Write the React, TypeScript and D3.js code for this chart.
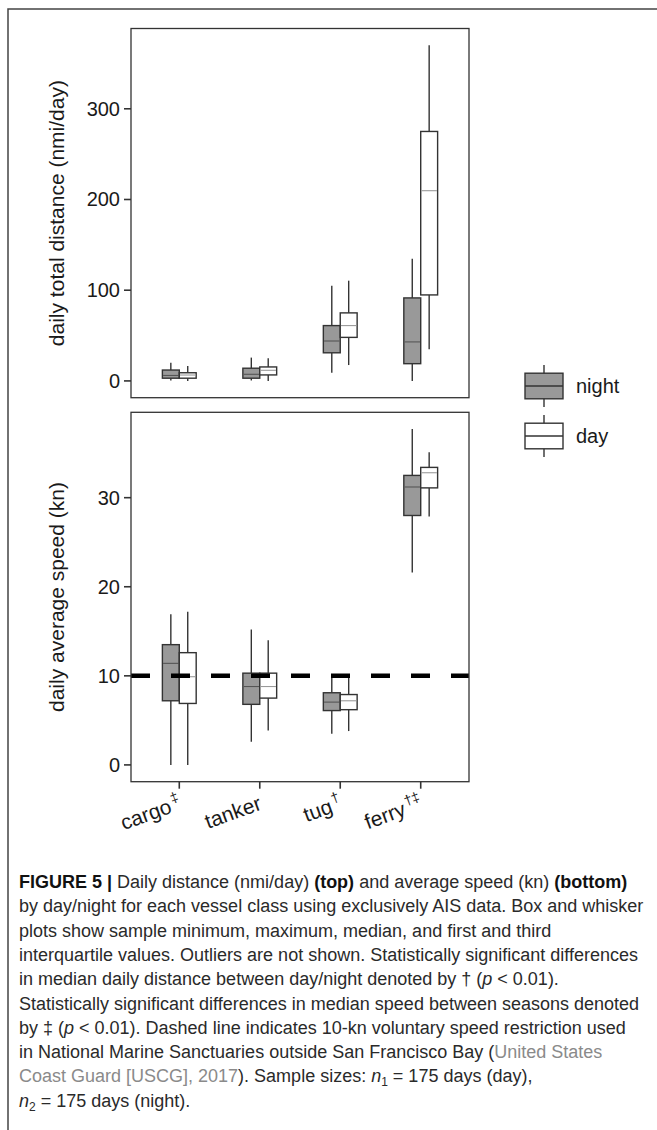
import React from "react";
import { scaleLinear, scalePoint, max, min } from "d3";

// values: [min, q1, median, q3, max]
const categories = ["cargo", "tanker", "tug", "ferry"];
const categorySup = ["‡", "", "†", "†‡"];
const groups = ["night", "day"];

const distNight = [
  [0.5, 3, 6, 12, 20],
  [0.5, 3, 7.3, 14, 25.7],
  [9, 31, 44, 61, 105],
  [0, 19, 43, 91.5, 134.7],
];
const distDay = [
  [0, 3, 6.5, 9, 16.5],
  [0, 6.6, 11.7, 15.4, 25],
  [17.5, 48, 61, 75, 110.5],
  [35, 94.8, 209.7, 275, 370],
];
const speedNight = [
  [0, 7.2, 11.4, 13.5, 16.9],
  [2.6, 6.8, 8.8, 10.3, 15.2],
  [3.5, 6.1, 7.05, 8.1, 9.8],
  [21.6, 28.0, 31.2, 32.5, 37.7],
];
const speedDay = [
  [0, 6.9, 9.9, 12.6, 17.2],
  [3.85, 7.5, 8.8, 10.3, 14],
  [3.8, 6.2, 7.2, 7.9, 9.8],
  [27.9, 31.1, 32.8, 33.4, 35.1],
];
const distTicks = [0, 100, 200, 300];
const speedTicks = [0, 10, 20, 30];
const speedLimit = 10;

const W = 657, H = 1130;
const left = 131, right = 469;
const top1 = 28.5, bottom1 = 397.7;
const top2 = 412.3, bottom2 = 781.7;
const ink = "#333333";
const fills = { night: "#999999", day: "#ffffff" };
const medColor = { night: "#555555", day: "#9a9a9a" };
const font = "'Liberation Sans', Arial, Helvetica, sans-serif";

function padded(series: number[][][]) {
  const lo = min(series.flat(2)) as number;
  const hi = max(series.flat(2)) as number;
  const e = (hi - lo) * 0.05;
  return [lo - e, hi + e];
}

const x = scalePoint<string>().domain(categories).range([left, right]).padding(0.6);
const boxW = x.step() * 0.21;

function Panel({ night, day, ticks, top, bottom, title, hline }: any) {
  const y = scaleLinear().domain(padded([night, day])).range([bottom, top]);
  const boxes: any[] = [];
  categories.forEach((c, i) => {
    groups.forEach((g, gi) => {
      const s = (g === "night" ? night : day)[i];
      const x0 = (x(c) as number) + (gi === 0 ? -boxW : 0);
      const cx = x0 + boxW / 2;
      boxes.push(
        <g key={c + g}>
          <line x1={cx} x2={cx} y1={y(s[4])} y2={y(s[3])} stroke={ink} strokeWidth={1.4} />
          <line x1={cx} x2={cx} y1={y(s[1])} y2={y(s[0])} stroke={ink} strokeWidth={1.4} />
          <rect x={x0} y={y(s[3])} width={boxW} height={y(s[1]) - y(s[3])}
            fill={(fills as any)[g]} stroke={ink} strokeWidth={1.4} />
          <line x1={x0 + 0.7} x2={x0 + boxW - 0.7} y1={y(s[2])} y2={y(s[2])}
            stroke={(medColor as any)[g]} strokeWidth={1.1} />
        </g>
      );
    });
  });
  const mid = (top + bottom) / 2;
  return (
    <g>
      {boxes}
      {hline !== undefined && (
        <line x1={left} x2={right} y1={y(hline)} y2={y(hline)} stroke="#000"
          strokeWidth={4.5} strokeDasharray="19 21" />
      )}
      <rect x={left} y={top} width={right - left} height={bottom - top} fill="none" stroke={ink} strokeWidth={1.3} />
      {ticks.map((t: number) => (
        <g key={t}>
          <line x1={left - 7} x2={left} y1={y(t)} y2={y(t)} stroke={ink} strokeWidth={1.6} />
          <text x={left - 11} y={y(t)} dy="0.35em" textAnchor="end" fontSize={20} fill="#1a1a1a">{t}</text>
        </g>
      ))}
      <text transform={`translate(57,${mid}) rotate(-90)`} textAnchor="middle" dy="0.35em" fontSize={21} fill="#1a1a1a">
        {title}
      </text>
    </g>
  );
}

function LegendKey({ cy, g }: { cy: number; g: string }) {
  const kx = 525, kw = 38;
  return (
    <g>
      <line x1={kx + kw / 2} x2={kx + kw / 2} y1={cy - 21} y2={cy + 21} stroke={ink} strokeWidth={1.4} />
      <rect x={kx} y={cy - 12.8} width={kw} height={25.6} fill={(fills as any)[g]} stroke={ink} strokeWidth={1.4} />
      <line x1={kx} x2={kx + kw} y1={cy} y2={cy} stroke={ink} strokeWidth={1.4} />
      <text x={576} y={cy} dy="0.35em" fontSize={20} fill="#1a1a1a">{g}</text>
    </g>
  );
}

const capLines: any[] = [
  [["b", "FIGURE 5 | "], ["", "Daily distance (nmi/day) "], ["b", "(top)"], ["", " and average speed (kn) "], ["b", "(bottom)"]],
  [["", "by day/night for each vessel class using exclusively AIS data. Box and whisker"]],
  [["", "plots show sample minimum, maximum, median, and first and third"]],
  [["", "interquartile values. Outliers are not shown. Statistically significant differences"]],
  [["", "in median daily distance between day/night denoted by † ("], ["i", "p"], ["", " < 0.01)."]],
  [["", "Statistically significant differences in median speed between seasons denoted"]],
  [["", "by ‡ ("], ["i", "p"], ["", " < 0.01). Dashed line indicates 10-kn voluntary speed restriction used"]],
  [["", "in National Marine Sanctuaries outside San Francisco Bay ("], ["g", "United States"]],
  [["g", "Coast Guard [USCG], 2017"], ["", "). Sample sizes: "], ["i", "n"], ["sub", "1"], ["", " = 175 days (day),"]],
  [["i", "n"], ["sub", "2"], ["", " = 175 days (night)."]],
];

export default function App() {
  const xLabelY = 809;
  return (
    <svg width={W} height={H} style={{ position: "absolute", left: 0, top: 0, background: "#fff" }} fontFamily={font}>
      <path d={`M${W},9 H8 V${H}`} fill="none" stroke="#444" strokeWidth={1.5} />
      <Panel night={distNight} day={distDay} ticks={distTicks} top={top1} bottom={bottom1}
        title="daily total distance (nmi/day)" />
      <Panel night={speedNight} day={speedDay} ticks={speedTicks} top={top2} bottom={bottom2}
        title="daily average speed (kn)" hline={speedLimit} />
      {categories.map((c, i) => {
        const tx = x(c) as number;
        const sup = categorySup[i];
        return (
          <g key={c}>
            <line x1={tx} x2={tx} y1={bottom2} y2={bottom2 + 7} stroke={ink} strokeWidth={1.6} />
            <text transform={`translate(${tx + 3},${xLabelY}) rotate(-20)`} textAnchor="end" fontSize={21} fill="#1a1a1a">
              {c}
              {sup && <tspan fontSize={14} dx={2} baselineShift="9">{sup}</tspan>}
            </text>
          </g>
        );
      })}
      <LegendKey cy={386} g="night" />
      <LegendKey cy={436} g="day" />
      {capLines.map((ln, i) => (
        <text key={i} x={19} y={888 + i * 24.3} fontSize={18} fill="#2a2a2a">
          {ln.map((p: any, j: number) => {
            if (p[0] === "b") return <tspan key={j} fontWeight="bold" fill="#111">{p[1]}</tspan>;
            if (p[0] === "i") return <tspan key={j} fontStyle="italic">{p[1]}</tspan>;
            if (p[0] === "g") return <tspan key={j} fill="#8a8a8a">{p[1]}</tspan>;
            if (p[0] === "sub") return <tspan key={j} fontSize={12} baselineShift="-4">{p[1]}</tspan>;
            return <tspan key={j}>{p[1]}</tspan>;
          })}
        </text>
      ))}
    </svg>
  );
}
